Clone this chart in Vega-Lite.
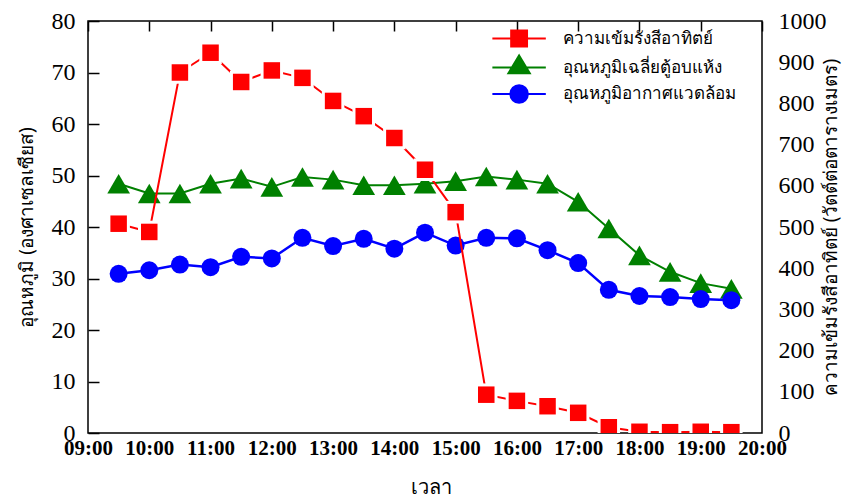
{
  "$schema": "https://vega.github.io/schema/vega-lite/v6.json",
  "width": 674,
  "height": 412,
  "autosize": {"type": "none"},
  "padding": {"left": 88, "top": 21, "right": 91, "bottom": 66},
  "background": "white",
  "config": {
    "view": {"stroke": "black", "strokeWidth": 1.5},
    "axis": {"domain": false, "ticks": false, "grid": true, "gridColor": "black", "gridWidth": 1.5, "gridOpacity": 1, "labelColor": "black", "titleColor": "black"},
    "legend": {"orient": "none", "title": null, "padding": 0, "symbolSize": 279, "symbolStrokeWidth": 2, "symbolOpacity": 1, "labelFont": "Noto Sans", "labelFontSize": 17, "labelColor": "black", "labelOffset": 34, "labelLimit": 400}
  },
  "data": {
    "values": [
      {"time": 9.5, "series": "ความเข้มรังสีอาทิตย์", "value": 508},
      {"time": 10, "series": "ความเข้มรังสีอาทิตย์", "value": 488},
      {"time": 10.5, "series": "ความเข้มรังสีอาทิตย์", "value": 875},
      {"time": 11, "series": "ความเข้มรังสีอาทิตย์", "value": 923},
      {"time": 11.5, "series": "ความเข้มรังสีอาทิตย์", "value": 852},
      {"time": 12, "series": "ความเข้มรังสีอาทิตย์", "value": 880},
      {"time": 12.5, "series": "ความเข้มรังสีอาทิตย์", "value": 862},
      {"time": 13, "series": "ความเข้มรังสีอาทิตย์", "value": 806},
      {"time": 13.5, "series": "ความเข้มรังสีอาทิตย์", "value": 769},
      {"time": 14, "series": "ความเข้มรังสีอาทิตย์", "value": 716},
      {"time": 14.5, "series": "ความเข้มรังสีอาทิตย์", "value": 639},
      {"time": 15, "series": "ความเข้มรังสีอาทิตย์", "value": 536},
      {"time": 15.5, "series": "ความเข้มรังสีอาทิตย์", "value": 93},
      {"time": 16, "series": "ความเข้มรังสีอาทิตย์", "value": 78},
      {"time": 16.5, "series": "ความเข้มรังสีอาทิตย์", "value": 65},
      {"time": 17, "series": "ความเข้มรังสีอาทิตย์", "value": 49},
      {"time": 17.5, "series": "ความเข้มรังสีอาทิตย์", "value": 14},
      {"time": 18, "series": "ความเข้มรังสีอาทิตย์", "value": 3},
      {"time": 18.5, "series": "ความเข้มรังสีอาทิตย์", "value": 2},
      {"time": 19, "series": "ความเข้มรังสีอาทิตย์", "value": 3},
      {"time": 19.5, "series": "ความเข้มรังสีอาทิตย์", "value": 2},
      {"time": 9.5, "series": "อุณหภูมิเฉลี่ยตู้อบแห้ง", "value": 48.4},
      {"time": 10, "series": "อุณหภูมิเฉลี่ยตู้อบแห้ง", "value": 46.5},
      {"time": 10.5, "series": "อุณหภูมิเฉลี่ยตู้อบแห้ง", "value": 46.5},
      {"time": 11, "series": "อุณหภูมิเฉลี่ยตู้อบแห้ง", "value": 48.4},
      {"time": 11.5, "series": "อุณหภูมิเฉลี่ยตู้อบแห้ง", "value": 49.4},
      {"time": 12, "series": "อุณหภูมิเฉลี่ยตู้อบแห้ง", "value": 47.8},
      {"time": 12.5, "series": "อุณหภูมิเฉลี่ยตู้อบแห้ง", "value": 49.7},
      {"time": 13, "series": "อุณหภูมิเฉลี่ยตู้อบแห้ง", "value": 49.2},
      {"time": 13.5, "series": "อุณหภูมิเฉลี่ยตู้อบแห้ง", "value": 48.1},
      {"time": 14, "series": "อุณหภูมิเฉลี่ยตู้อบแห้ง", "value": 48.1},
      {"time": 14.5, "series": "อุณหภูมิเฉลี่ยตู้อบแห้ง", "value": 48.4},
      {"time": 15, "series": "อุณหภูมิเฉลี่ยตู้อบแห้ง", "value": 48.9},
      {"time": 15.5, "series": "อุณหภูมิเฉลี่ยตู้อบแห้ง", "value": 49.8},
      {"time": 16, "series": "อุณหภูมิเฉลี่ยตู้อบแห้ง", "value": 49.2},
      {"time": 16.5, "series": "อุณหภูมิเฉลี่ยตู้อบแห้ง", "value": 48.4},
      {"time": 17, "series": "อุณหภูมิเฉลี่ยตู้อบแห้ง", "value": 44.9},
      {"time": 17.5, "series": "อุณหภูมิเฉลี่ยตู้อบแห้ง", "value": 39.7},
      {"time": 18, "series": "อุณหภูมิเฉลี่ยตู้อบแห้ง", "value": 34.5},
      {"time": 18.5, "series": "อุณหภูมิเฉลี่ยตู้อบแห้ง", "value": 31.3},
      {"time": 19, "series": "อุณหภูมิเฉลี่ยตู้อบแห้ง", "value": 29.1},
      {"time": 19.5, "series": "อุณหภูมิเฉลี่ยตู้อบแห้ง", "value": 28.0},
      {"time": 9.5, "series": "อุณหภูมิอากาศแวดล้อม", "value": 30.9},
      {"time": 10, "series": "อุณหภูมิอากาศแวดล้อม", "value": 31.6},
      {"time": 10.5, "series": "อุณหภูมิอากาศแวดล้อม", "value": 32.7},
      {"time": 11, "series": "อุณหภูมิอากาศแวดล้อม", "value": 32.2},
      {"time": 11.5, "series": "อุณหภูมิอากาศแวดล้อม", "value": 34.2},
      {"time": 12, "series": "อุณหภูมิอากาศแวดล้อม", "value": 33.9},
      {"time": 12.5, "series": "อุณหภูมิอากาศแวดล้อม", "value": 37.9},
      {"time": 13, "series": "อุณหภูมิอากาศแวดล้อม", "value": 36.3},
      {"time": 13.5, "series": "อุณหภูมิอากาศแวดล้อม", "value": 37.7},
      {"time": 14, "series": "อุณหภูมิอากาศแวดล้อม", "value": 35.8},
      {"time": 14.5, "series": "อุณหภูมิอากาศแวดล้อม", "value": 38.9},
      {"time": 15, "series": "อุณหภูมิอากาศแวดล้อม", "value": 36.4},
      {"time": 15.5, "series": "อุณหภูมิอากาศแวดล้อม", "value": 37.9},
      {"time": 16, "series": "อุณหภูมิอากาศแวดล้อม", "value": 37.8},
      {"time": 16.5, "series": "อุณหภูมิอากาศแวดล้อม", "value": 35.5},
      {"time": 17, "series": "อุณหภูมิอากาศแวดล้อม", "value": 33.0},
      {"time": 17.5, "series": "อุณหภูมิอากาศแวดล้อม", "value": 27.8},
      {"time": 18, "series": "อุณหภูมิอากาศแวดล้อม", "value": 26.6},
      {"time": 18.5, "series": "อุณหภูมิอากาศแวดล้อม", "value": 26.4},
      {"time": 19, "series": "อุณหภูมิอากาศแวดล้อม", "value": 26.0},
      {"time": 19.5, "series": "อุณหภูมิอากาศแวดล้อม", "value": 25.8}
    ]
  },
  "layer": [
    {
      "encoding": {
        "x": {
          "field": "time",
          "type": "quantitative",
          "scale": {"domain": [9, 20], "nice": false, "zero": false},
          "axis": {
            "values": [9, 10, 11, 12, 13, 14, 15, 16, 17, 18, 19, 20],
            "labelExpr": "(datum.value < 10 ? '0' : '') + datum.value + ':00'",
            "gridDash": [10, 2000],
            "labelPadding": 4,
            "labelFont": "Liberation Serif",
            "labelFontSize": 21,
            "labelFontWeight": "bold",
            "labelFlush": false,
            "labelOverlap": false,
            "title": "เวลา",
            "titleFont": "Noto Sans",
            "titleFontSize": 20,
            "titleFontWeight": "normal",
            "titleX": 343,
            "titleY": 54,
            "titleBaseline": "middle"
          }
        },
        "y": {
          "field": "value",
          "type": "quantitative",
          "scale": {"domain": [0, 80], "nice": false},
          "axis": {
            "orient": "left",
            "values": [0, 10, 20, 30, 40, 50, 60, 70, 80],
            "gridDash": [11, 2000],
            "labelPadding": 13,
            "labelFont": "Liberation Serif",
            "labelFontSize": 24,
            "title": "อุณหภูมิ (องศาเซลเซียส)",
            "titleFont": "Noto Sans",
            "titleFontSize": 19,
            "titleFontWeight": "normal",
            "titleAngle": -90,
            "titleBaseline": "middle",
            "titleX": -62,
            "titleY": 206
          }
        }
      },
      "layer": [
        {
          "transform": [{"filter": "datum.series === 'อุณหภูมิเฉลี่ยตู้อบแห้ง'"}],
          "layer": [
            {
              "mark": {"type": "line", "strokeWidth": 2},
              "encoding": {
                "color": {
                  "field": "series",
                  "type": "nominal",
                  "scale": {"domain": ["อุณหภูมิเฉลี่ยตู้อบแห้ง"], "range": ["#008000"]},
                  "legend": {
                    "legendX": 421.6,
                    "legendY": 37,
                    "symbolType": "M-3.2,0H3.2M0,-1.45L1.28,0.7H-1.28Z",
                    "symbolFillColor": "#008000",
                    "symbolStrokeColor": "#008000"
                  }
                }
              }
            },
            {"mark": {"type": "point", "shape": "triangle-up", "filled": true, "color": "#008000", "size": 515, "opacity": 1}}
          ]
        },
        {
          "transform": [{"filter": "datum.series === 'อุณหภูมิอากาศแวดล้อม'"}],
          "layer": [
            {
              "mark": {"type": "line", "strokeWidth": 2.5},
              "encoding": {
                "color": {
                  "field": "series",
                  "type": "nominal",
                  "scale": {"domain": ["อุณหภูมิอากาศแวดล้อม"], "range": ["#0000ff"]},
                  "legend": {
                    "legendX": 421.6,
                    "legendY": 63.5,
                    "symbolType": "M-3.2,0H3.2M-1.05,0A1.05,1.05,0,1,1,1.05,0A1.05,1.05,0,1,1,-1.05,0Z",
                    "symbolFillColor": "#0000ff",
                    "symbolStrokeColor": "#0000ff"
                  }
                }
              }
            },
            {"mark": {"type": "point", "shape": "circle", "filled": true, "color": "#0000ff", "size": 324, "opacity": 1}}
          ]
        }
      ],
      "resolve": {"scale": {"color": "independent"}}
    },
    {
      "transform": [{"filter": "datum.series === 'ความเข้มรังสีอาทิตย์'"}],
      "encoding": {
        "x": {
          "field": "time",
          "type": "quantitative",
          "scale": {"domain": [9, 20], "nice": false, "zero": false},
          "axis": {
            "values": [9.5, 10.5, 11.5, 12.5, 13.5, 14.5, 15.5, 16.5, 17.5, 18.5, 19.5],
            "gridDash": [5, 2000],
            "labels": false,
            "title": null
          }
        },
        "y": {
          "field": "value",
          "type": "quantitative",
          "scale": {"domain": [0, 1000], "nice": false},
          "axis": {
            "orient": "right",
            "values": [0, 100, 200, 300, 400, 500, 600, 700, 800, 900, 1000],
            "format": "d",
            "gridDash": [10, 2000],
            "labelPadding": 16,
            "labelFont": "Liberation Serif",
            "labelFontSize": 24,
            "title": "ความเข้มรังสีอาทิตย์ (วัตต์ต่อตารางเมตร)",
            "titleFont": "Noto Sans",
            "titleFontSize": 19,
            "titleFontWeight": "normal",
            "titleAngle": -90,
            "titleBaseline": "middle",
            "titleX": 68,
            "titleY": 206
          }
        }
      },
      "layer": [
        {
          "mark": {"type": "line", "strokeWidth": 2, "clip": true},
          "encoding": {
            "color": {
              "field": "series",
              "type": "nominal",
              "scale": {"domain": ["ความเข้มรังสีอาทิตย์"], "range": ["#ff0000"]},
              "legend": {
                "legendX": 421.6,
                "legendY": 8,
                "symbolType": "M-3.2,0H3.2M-0.95,-0.95H0.95V0.95H-0.95Z",
                "symbolFillColor": "#ff0000",
                "symbolStrokeColor": "#ff0000"
              }
            }
          }
        },
        {"mark": {"type": "point", "shape": "square", "filled": true, "color": "white", "size": 506, "opacity": 1, "clip": true}},
        {"mark": {"type": "point", "shape": "square", "filled": true, "color": "#ff0000", "size": 272, "opacity": 1, "clip": true}}
      ]
    }
  ],
  "resolve": {"scale": {"y": "independent", "color": "independent"}, "axis": {"x": "independent"}}
}
